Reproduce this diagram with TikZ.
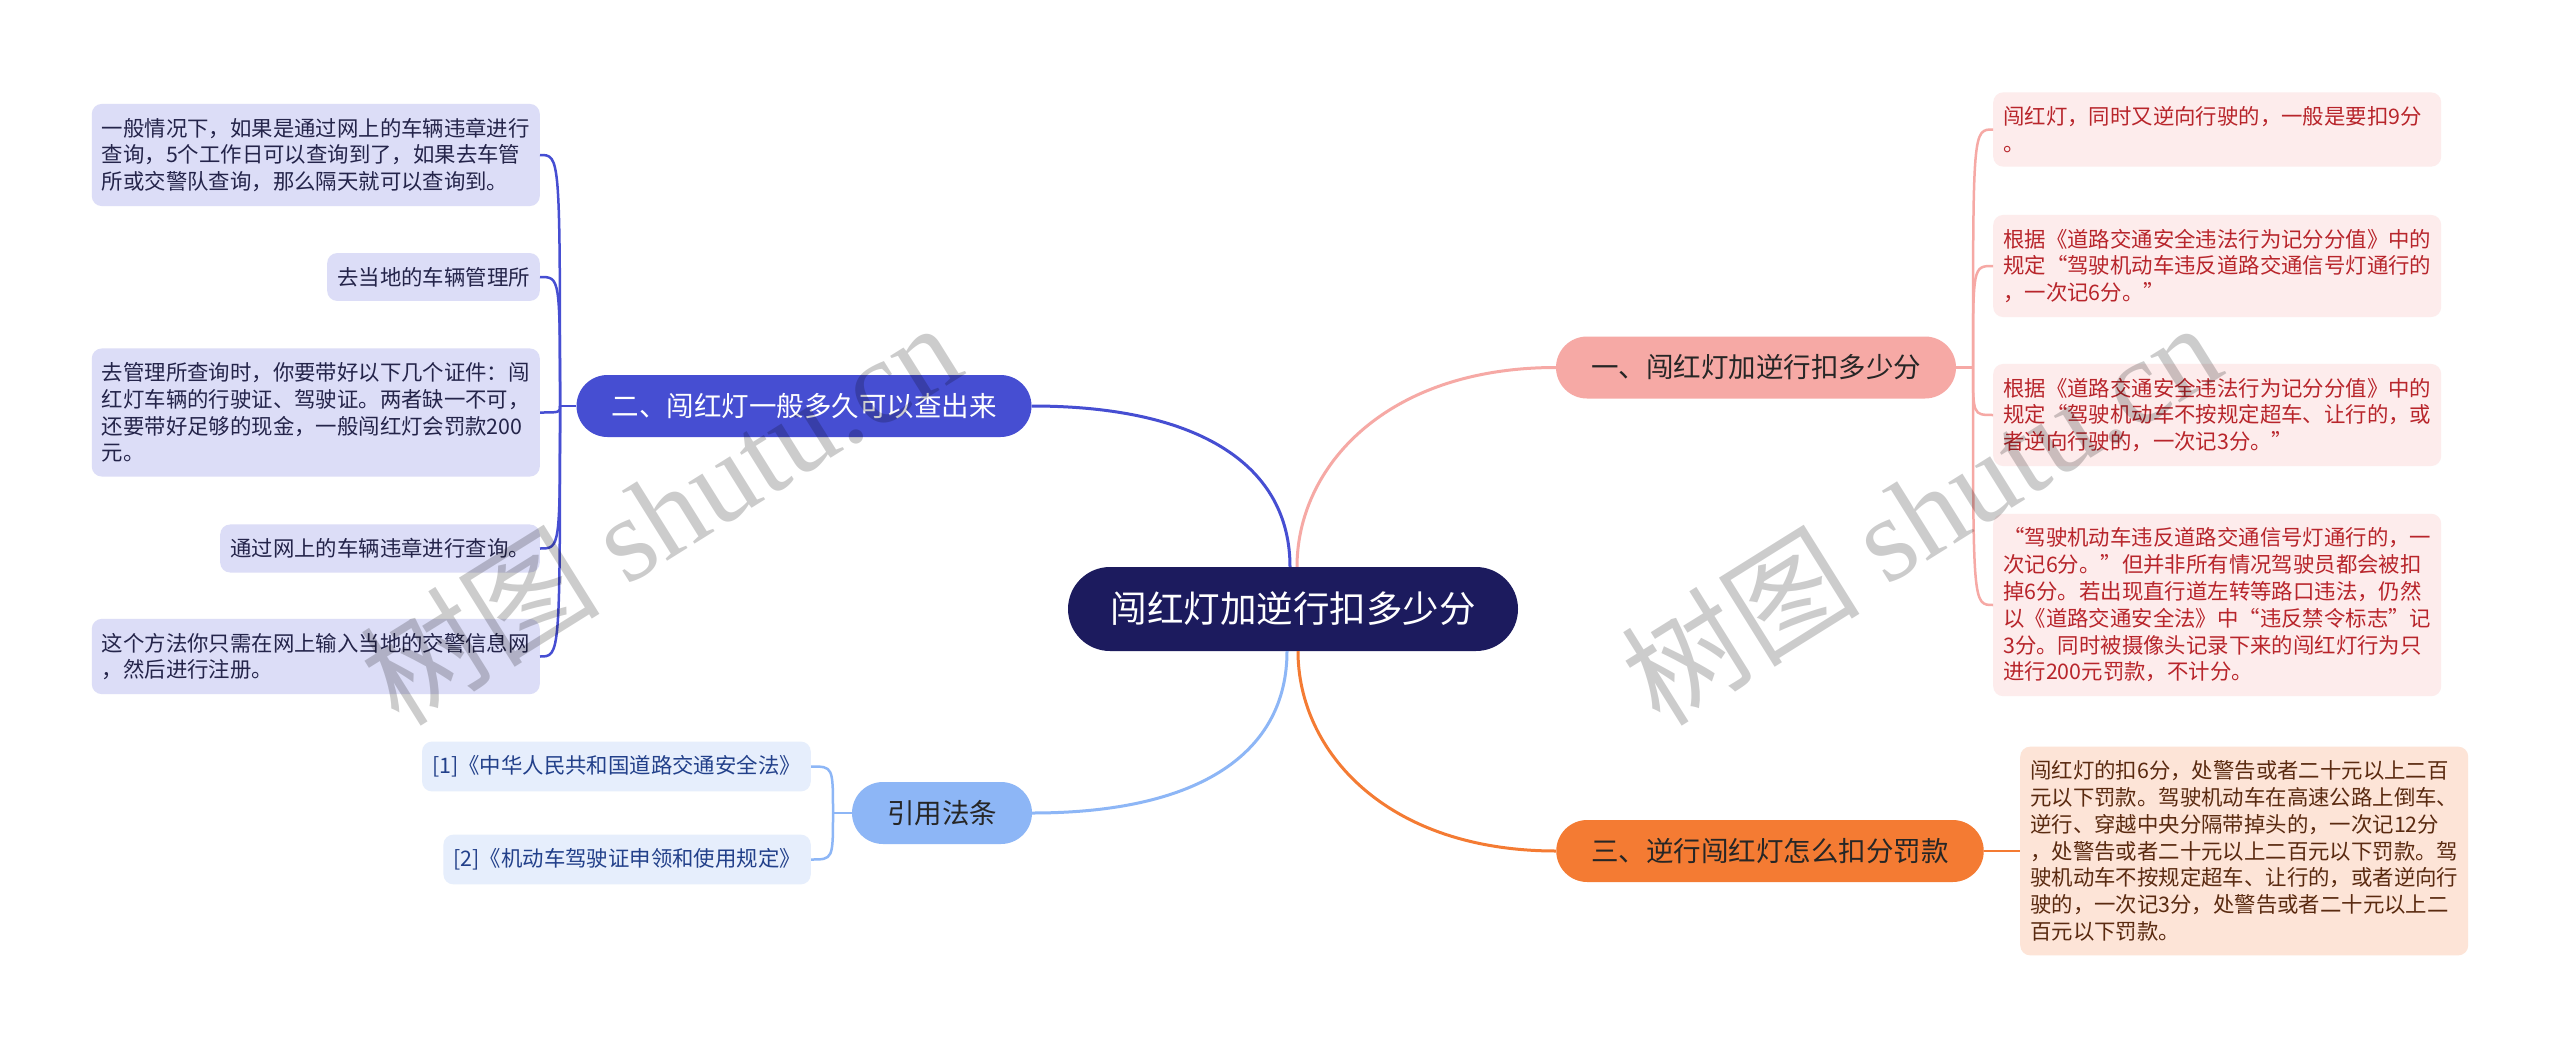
\documentclass[tikz,border=0pt]{standalone}
\usepackage{fontspec}
\setmainfont{Noto Sans CJK SC}
\newfontfamily\wmlatin{Liberation Serif}
\usepackage{xcolor}
\usepackage{tikz}
\definecolor{cctr}{HTML}{1C1B5E}
\definecolor{cqry}{HTML}{464ED2}
\definecolor{cqryl}{HTML}{DCDDF7}
\definecolor{cqryt}{HTML}{24244A}
\definecolor{cpts}{HTML}{F6A9A5}
\definecolor{cptsl}{HTML}{FDECEC}
\definecolor{cptst}{HTML}{B8252B}
\definecolor{cfin}{HTML}{F47B33}
\definecolor{cfinl}{HTML}{FDE4D7}
\definecolor{cfint}{HTML}{5A2A10}
\definecolor{cref}{HTML}{8DB6F6}
\definecolor{crefl}{HTML}{E6EEFC}
\definecolor{creft}{HTML}{22408A}

\begin{document}
\begin{tikzpicture}[x=1pt,y=-1pt,
    topic/.style={fill=cctr,text=white,rounded corners=42pt,minimum width=450pt,minimum height=84pt,font=\fontsize{36.5}{44}\selectfont},
    branch/.style={rounded corners=31pt,minimum height=62pt,inner xsep=35pt,font=\fontsize{27.5}{33}\selectfont},
    leaf/.style={rounded corners=10pt,inner xsep=10pt,inner ysep=14pt,align=left,font=\fontsize{21.4}{26.8}\selectfont},
    wide/.style={text width=428pt},
    link/.style={line width=3pt},
    twig/.style={line width=2.5pt},
    wm/.style={text=black,opacity=0.2,font=\fontsize{120}{120}\selectfont}]
    \useasboundingbox[fill=white] (0,0) rectangle (2560,1049);
    % centre and main branches
    \node[topic] (ctr) at (1293,609) {闯红灯加逆行扣多少分};
    \node[branch,fill=cqry,text=white] (qry) at (804,406) {二、闯红灯一般多久可以查出来};
    \node[branch,fill=cref,text=black!85] (ref) at (942,813) {引用法条};
    \node[branch,fill=cpts,text=black!85] (pts) at (1756,367.5) {一、闯红灯加逆行扣多少分};
    \node[branch,fill=cfin,text=black!85] (fin) at (1770,851) {三、逆行闯红灯怎么扣分罚款};
    \draw[link,cqry] ([xshift=-3pt]ctr.north) .. controls +(0,-100) and +(170,0) .. (qry.east);
    \draw[link,cpts] ([xshift=4pt]ctr.north) .. controls +(0,-100) and +(-170,0) .. (pts.west);
    \draw[link,cref] ([xshift=-6pt]ctr.south) .. controls +(0,100) and +(170,0) .. (ref.east);
    \draw[link,cfin] ([xshift=5pt]ctr.south) .. controls +(0,100) and +(-170,0) .. (fin.west);
    % left: how long
    \node[leaf,wide,fill=cqryl,text=cqryt,anchor=east] (q1) at (540,155) {一般情况下，如果是通过网上的车辆违章进行\\查询，5个工作日可以查询到了，如果去车管\\所或交警队查询，那么隔天就可以查询到。};
    \node[leaf,fill=cqryl,text=cqryt,anchor=east] (q2) at (540,277) {去当地的车辆管理所};
    \node[leaf,wide,fill=cqryl,text=cqryt,anchor=east] (q3) at (540,412.5) {去管理所查询时，你要带好以下几个证件：闯\\红灯车辆的行驶证、驾驶证。两者缺一不可，\\还要带好足够的现金，一般闯红灯会罚款200\\元。};
    \node[leaf,fill=cqryl,text=cqryt,anchor=east] (q4) at (540,548.5) {通过网上的车辆违章进行查询。};
    \node[leaf,wide,fill=cqryl,text=cqryt,anchor=east] (q5) at (540,656.5) {这个方法你只需在网上输入当地的交警信息网\\，然后进行注册。};
    \coordinate (qj) at (560,406);
    \draw[twig,cqry] (qry.west) -- (qj);
    \foreach \n in {q1,q2,q3,q4,q5}
      \draw[twig,cqry] (qj) .. controls (qj |- \n.east) .. (\n.east);
    % left: cited laws
    \node[leaf,fill=crefl,text=creft,anchor=east] (r1) at (811,766.5) {[1]《中华人民共和国道路交通安全法》};
    \node[leaf,fill=crefl,text=creft,anchor=east] (r2) at (811,859.5) {[2]《机动车驾驶证申领和使用规定》};
    \coordinate (rj) at (833,813);
    \draw[twig,cref] (ref.west) -- (rj);
    \foreach \n in {r1,r2}
      \draw[twig,cref] (rj) .. controls (rj |- \n.east) .. (\n.east);
    % right: points
    \node[leaf,wide,fill=cptsl,text=cptst,anchor=west] (p1) at (1993,129.5) {闯红灯，同时又逆向行驶的，一般是要扣9分\\。};
    \node[leaf,wide,fill=cptsl,text=cptst,anchor=west] (p2) at (1993,266) {根据《道路交通安全违法行为记分分值》中的\\规定“驾驶机动车违反道路交通信号灯通行的\\，一次记6分。”};
    \node[leaf,wide,fill=cptsl,text=cptst,anchor=west] (p3) at (1993,415) {根据《道路交通安全违法行为记分分值》中的\\规定“驾驶机动车不按规定超车、让行的，或\\者逆向行驶的，一次记3分。”};
    \node[leaf,wide,fill=cptsl,text=cptst,anchor=west] (p4) at (1993,605) {“驾驶机动车违反道路交通信号灯通行的，一\\次记6分。”但并非所有情况驾驶员都会被扣\\掉6分。若出现直行道左转等路口违法，仍然\\以《道路交通安全法》中“违反禁令标志”记\\3分。同时被摄像头记录下来的闯红灯行为只\\进行200元罚款，不计分。};
    \coordinate (pj) at (1973,367.5);
    \draw[twig,cpts] (pts.east) -- (pj);
    \foreach \n in {p1,p2,p3,p4}
      \draw[twig,cpts] (pj) .. controls (pj |- \n.west) .. (\n.west);
    % right: fines
    \node[leaf,wide,fill=cfinl,text=cfint,anchor=west] (f1) at (2020,851) {闯红灯的扣6分，处警告或者二十元以上二百\\元以下罚款。驾驶机动车在高速公路上倒车、\\逆行、穿越中央分隔带掉头的，一次记12分\\，处警告或者二十元以上二百元以下罚款。驾\\驶机动车不按规定超车、让行的，或者逆向行\\驶的，一次记3分，处警告或者二十元以上二\\百元以下罚款。};
    \draw[twig,cfin] (fin.east) -- (f1.west);
    % watermarks
    \node[wm,rotate=32] (wm1) at (660,512) {树图 {\wmlatin shutu.cn}};
    \node[wm,rotate=32] (wm2) at (1920,512) {树图 {\wmlatin shutu.cn}};
\end{tikzpicture}
\end{document}
